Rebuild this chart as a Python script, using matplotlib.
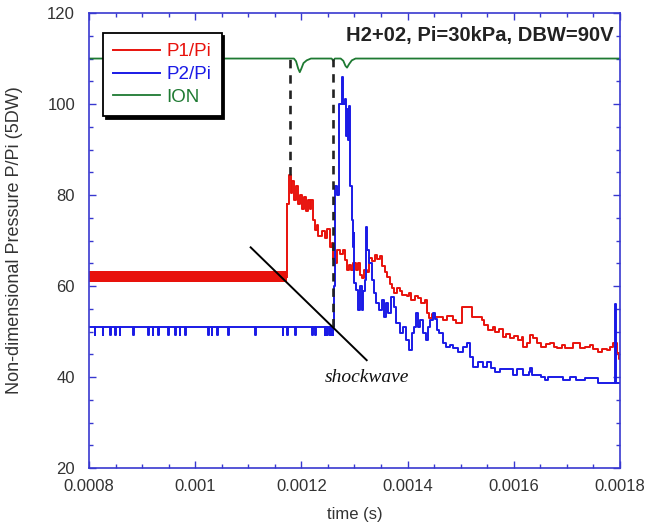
import numpy as np
import matplotlib
matplotlib.use("Agg")
import matplotlib.pyplot as plt

# ---- data (time in microseconds, values P/Pi) ----
# P1/Pi before the shock: a thick noisy band
red_base_t = [800, 1172]
red_base_lo = [60.8, 60.8]
red_base_hi = [63.2, 63.2]

# P1/Pi after the shock (step trace)
red_t = [1172, 1176, 1180, 1183, 1186, 1189, 1193, 1197, 1201, 1205, 1209, 1213,
         1216, 1219, 1222, 1226, 1229, 1232, 1238, 1244, 1248, 1254, 1257, 1260,
         1264, 1268, 1273, 1278, 1282, 1286, 1290, 1294, 1298, 1302, 1306, 1310,
         1314, 1318, 1323, 1327, 1333, 1338, 1343, 1348, 1352, 1357, 1361, 1366,
         1370, 1375, 1380, 1385, 1390, 1398, 1402, 1407, 1414, 1420, 1425, 1432,
         1436, 1441, 1446, 1451, 1460, 1467, 1474, 1480, 1486, 1492, 1502, 1518,
         1521, 1536, 1540, 1543, 1552, 1560, 1565, 1572, 1580, 1586, 1593, 1600,
         1608, 1615, 1618, 1625, 1630, 1636, 1643, 1652, 1660, 1668, 1675, 1681,
         1690, 1697, 1706, 1712, 1718, 1724, 1735, 1743, 1750, 1759, 1766, 1775,
         1782, 1787, 1794, 1798, 1800]
red_v = [78, 84.4, 80.5, 83, 79, 82, 78, 80, 77, 79.5, 76.5, 79,
         77, 79, 74.5, 72.4, 73.5, 71, 72, 70.5, 72.5, 68.5, 69.5, 66,
         65, 68, 67, 68, 65.7, 63.5, 64.6, 63.5, 65, 63.5, 65, 62.5,
         61.8, 63.5, 63, 66.2, 65.5, 66.8, 66, 66.5, 64.5, 63, 62, 60.5,
         59.5, 58.4, 59.5, 59, 58, 57.7, 58.5, 57, 57.8, 57.4, 56.3, 57,
         54, 53, 53.8, 53.3, 53.3, 52.5, 53.5, 53.5, 52.5, 51.9, 55.4, 55.4,
         53.3, 53.3, 52.6, 51.4, 50.3, 51, 50, 50.5, 48.9, 49.5, 48.6, 49,
         48.1, 48.8, 46.7, 47.5, 49.2, 48.5, 47.4, 46.7, 47.2, 47.4, 46.5, 46.4,
         47, 46.4, 46.4, 47.4, 47.4, 46.4, 46.6, 47.1, 46.2, 45.6, 46.2, 45.9,
         46.5, 47.4, 45.2, 44, 44]

# P2/Pi before the shock: flat level with short downward glitches
blue_base = 51
blue_glitch = 49.3
blue_glitch_t = [811, 826, 840, 849, 858, 883, 911, 920, 930, 949, 962, 971, 981,
                 1024, 1031, 1041, 1062, 1113, 1165, 1173, 1188, 1220, 1226, 1244,
                 1248, 1252, 1255, 1259]

# P2/Pi after the shock (step trace)
blue_t = [1262, 1264, 1268, 1271, 1276, 1279, 1282, 1284, 1286, 1288, 1290, 1292,
          1295, 1297, 1299, 1300, 1303, 1306, 1311, 1314, 1317, 1320, 1322, 1324,
          1328, 1333, 1336, 1341, 1347, 1351, 1355, 1360, 1364, 1369, 1374, 1378,
          1385, 1391, 1397, 1403, 1408, 1413, 1416, 1420, 1424, 1429, 1434, 1438,
          1443, 1448, 1452, 1456, 1460, 1467, 1473, 1479, 1486, 1495, 1505, 1512,
          1517, 1524, 1533, 1542, 1550, 1558, 1565, 1574, 1593, 1599, 1606, 1618,
          1628, 1631, 1634, 1643, 1652, 1658, 1664, 1680, 1692, 1705, 1718, 1734,
          1756, 1759, 1790, 1791, 1792, 1800]
blue_v = [60, 82, 80, 100, 106, 100, 101, 93, 99, 92, 99.5, 82,
          74.5, 68.6, 71.6, 60.6, 59.1, 54.7, 60, 54.7, 59, 61.3, 73, 67.9,
          65, 61.3, 58.4, 56.2, 54.7, 57, 53.3, 56.2, 54, 57.6, 55.4, 51.8,
          49.6, 51, 48.1, 45.9, 49.6, 51, 54, 51, 52.5, 49.6, 48.1, 51,
          52.5, 54, 52.8, 50.3, 49.6, 47.4, 46.7, 47, 46.4, 45.6, 46.7, 47.4,
          44.5, 42.3, 43.4, 42.3, 43.4, 42, 41.2, 41.7, 41.7, 40.4, 41.7, 40.4,
          41.2, 41.9, 40.4, 40.4, 40, 39.3, 40, 40, 39.3, 40, 39.3, 39.8,
          39.8, 38.6, 38.6, 56, 38.6, 38.6]

# ION signal
ion_t = [800, 1186, 1190, 1194, 1197, 1200, 1204, 1210, 1218, 1257, 1260, 1263,
         1274, 1279, 1283, 1286, 1290, 1295, 1302, 1800]
ion_v = [110, 110, 109.4, 107.8, 107, 107.8, 109, 109.6, 110, 110, 109.5, 110,
         110, 109.5, 108.4, 108, 108.8, 109.6, 110, 110]

# markers of the arrival times and the shockwave line
arrival_t = [1178, 1260]
arrival_lo = [84.4, 51]
arrival_hi = [110, 110]
shock_t = [1104.5, 1323]
shock_v = [68.5, 43.7]

us = 1e-6

plt.rcParams['font.family'] = ['Liberation Sans', 'DejaVu Sans']

fig = plt.figure(figsize=(6.63, 5.28), dpi=100)
ax = fig.add_axes([0.1342, 0.1136, 0.8009, 0.8617])

ax.fill_between(np.array(red_base_t) * us, red_base_lo, red_base_hi,
                color='#e8120c', lw=0)
ax.plot(np.array(red_t) * us, red_v, color='#e8120c', lw=1.4,
        drawstyle='steps-post', label='P1/Pi')
ax.plot([red_base_t[1] * us, red_t[0] * us], [62, red_v[0]], color='#e8120c', lw=1.4)

# blue baseline with glitches
bt = [800]
bv = [blue_base]
for g in blue_glitch_t:
    bt += [g, g + 1.2]
    bv += [blue_glitch, blue_base]
bt += blue_t
bv += blue_v
ax.plot(np.array(bt) * us, bv, color='#1a1ae6', lw=1.4,
        drawstyle='steps-post', label='P2/Pi')

ax.plot(np.array(ion_t) * us, ion_v, color='#1e7a32', lw=1.3, label='ION')

for t, lo, hi in zip(arrival_t, arrival_lo, arrival_hi):
    ax.plot([t * us, t * us], [lo, hi], color='#222222', lw=1.9,
            dashes=(3.2, 2.6))
ax.plot(np.array(shock_t) * us, shock_v, color='black', lw=1.4)
ax.text(1324 * us, 39.8, 'shockwave', family='Liberation Serif', style='italic',
        fontsize=14, ha='center', va='center', color='#111111')

ax.set_xlim(0.0008, 0.0018)
ax.set_ylim(20, 120)
ax.set_xticks([0.0008, 0.001, 0.0012, 0.0014, 0.0016, 0.0018])
ax.set_xticklabels(['0.0008', '0.001', '0.0012', '0.0014', '0.0016', '0.0018'])
ax.set_xticks(np.arange(0.0008, 0.00181, 0.00005), minor=True)
ax.set_yticks([20, 40, 60, 80, 100, 120])
ax.set_yticks(np.arange(20, 121, 5), minor=True)

spine_col = '#3838d0'
for s in ax.spines.values():
    s.set_color(spine_col)
    s.set_linewidth(1.2)
ax.tick_params(which='both', direction='in', top=True, right=True,
               color=spine_col, labelcolor='#333333', labelsize=12)
ax.tick_params(which='major', length=5, width=1.0)
ax.tick_params(which='minor', length=3, width=1.0)
ax.tick_params(axis='y', pad=10)
ax.tick_params(axis='x', pad=8)

ax.set_xlabel('time (s)', fontsize=12, color='#333333')
ax.set_ylabel('Non-dimensional Pressure P/Pi (5DW)', fontsize=13, color='#333333')
ax.xaxis.set_label_coords(0.5, -0.085)
ax.yaxis.set_label_coords(-0.125, 0.5)

ax.text(0.987, 0.972, 'H2+02, Pi=30kPa, DBW=90V', transform=ax.transAxes,
        ha='right', va='top', fontsize=14.5, fontweight='bold', color='#222222')

leg = ax.legend(loc='upper left', bbox_to_anchor=(0.026, 0.956), borderaxespad=0,
                fancybox=False, shadow={'color': 'black', 'alpha': 1},
                edgecolor='black', framealpha=1, fontsize=13.5, labelcolor='linecolor',
                handlelength=2.5, labelspacing=0.3, borderpad=0.55, handletextpad=0.35)
leg.get_frame().set_linewidth(1.3)

fig.savefig('out.png', dpi=100)
